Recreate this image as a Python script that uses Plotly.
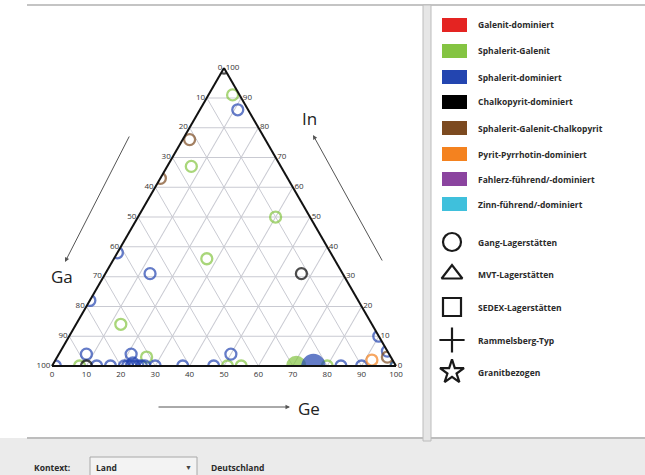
import math
import plotly.graph_objects as go

W, H = 645, 475

# ---- legend content -------------------------------------------------------
mineral_types = [
    "Galenit-dominiert",
    "Sphalerit-Galenit",
    "Sphalerit-dominiert",
    "Chalkopyrit-dominiert",
    "Sphalerit-Galenit-Chalkopyrit",
    "Pyrit-Pyrrhotin-dominiert",
    "Fahlerz-führend/-dominiert",
    "Zinn-führend/-dominiert",
]
type_colors = ["#e42422", "#84c442", "#2345b0", "#000000",
               "#7c4a20", "#f4821f", "#8b449f", "#3fc0dc"]

deposit_types = ["Gang-Lagerstätten", "MVT-Lagerstätten", "SEDEX-Lagerstätten",
                 "Rammelsberg-Typ", "Granitbezogen"]
deposit_symbols = ["circle-open", "triangle-up-open", "square-open",
                   "cross-thin-open", "star-open"]

# ---- deposits: Ga / Ge / In shares in %, n = deposits with that composition --
sg_ga = [2, 26, 10, 37, 73, 92, 71, 49, 45, 20, 0, 29]
sg_ge = [7, 7, 40, 27, 13, 8, 26, 51, 55, 80, 100, 71]
sg_in = [91, 67, 50, 36, 14, 0, 3, 0, 0, 0, 0, 0]
sg_n = [1, 1, 1, 1, 1, 1, 1, 1, 1, 1, 1, 4]

sd_ga = [3, 62, 56, 78, 0, 0, 99, 88, 87, 83, 79, 78, 77, 76, 75, 74, 73, 76,
         75, 70, 62, 53, 46, 16, 10, 0, 24]
sd_ge = [11, 0, 13, 0, 90, 95, 1, 8, 13, 17, 21, 22, 23, 24, 25, 26, 27, 23,
         21, 30, 38, 47, 50, 84, 90, 100, 76]
sd_in = [86, 38, 31, 22, 10, 5, 0, 4, 0, 0, 0, 0, 0, 0, 0, 0, 0, 1,
         4, 0, 0, 0, 4, 0, 0, 0, 0]
sd_n = [1] * 26 + [6]

cd_ga = [0, 12, 90]
cd_ge = [0, 57, 10]
cd_in = [100, 31, 0]
cd_n = [1, 1, 1]

sgc_ga = [22, 37, 1]
sgc_ge = [2, 0, 96]
sgc_in = [76, 63, 3]
sgc_n = [1, 1, 1]

pp_ga = [6]
pp_ge = [92]
pp_in = [2]
pp_n = [1]

series = [
    ("Sphalerit-Galenit", sg_ga, sg_ge, sg_in, sg_n),
    ("Sphalerit-dominiert", sd_ga, sd_ge, sd_in, sd_n),
    ("Sphalerit-Galenit-Chalkopyrit", sgc_ga, sgc_ge, sgc_in, sgc_n),
    ("Pyrit-Pyrrhotin-dominiert", pp_ga, pp_ge, pp_in, pp_n),
    ("Chalkopyrit-dominiert", cd_ga, cd_ge, cd_in, cd_n),
]

tick_vals = list(range(0, 101, 10))


def px(x):
    return x / W


def py(y):
    return 1 - y / H


fig = go.Figure()

for name, ga, ge, inn, n in series:
    col = type_colors[mineral_types.index(name)]
    fig.add_trace(go.Scatterternary(
        a=inn, b=ga, c=ge, mode="markers", name=name, showlegend=False,
        marker=dict(
            symbol=["circle-open" if k == 1 else "circle" for k in n],
            size=[11 if k == 1 else 9 * math.sqrt(k) for k in n],
            color=col,
            line=dict(color=col, width=2.3),
        ),
        hovertemplate="Ga %{b}%<br>Ge %{c}%<br>In %{a}%<extra>" + name + "</extra>",
    ))

# deposit-type symbols for the legend panel (pixel-like helper axes)
sym_y = [242, 274, 307, 340, 372]
fig.add_trace(go.Scatter(
    x=[452] * len(deposit_types), y=sym_y, mode="markers",
    marker=dict(symbol=deposit_symbols, size=18, color="#1a1a1a",
                line=dict(color="#1a1a1a", width=2.2)),
    showlegend=False, hoverinfo="skip", xaxis="x", yaxis="y",
))

ax_common = dict(
    tickmode="array", tickvals=tick_vals,
    ticktext=[str(100 - v) for v in tick_vals],
    ticks="", showline=True, linecolor="#111111", linewidth=2,
    showgrid=True, gridcolor="#c9cad2", gridwidth=1,
    tickfont=dict(size=8, color="#333333", family="Open Sans"),
    title=dict(text=""), min=0,
)

cx, half = 224, 172
tri_h = 2 * half * math.sqrt(3) / 2
bottom = 366

fig.update_layout(
    width=W, height=H,
    margin=dict(l=0, r=0, t=0, b=0),
    paper_bgcolor="white", plot_bgcolor="rgba(0,0,0,0)",
    showlegend=False,
    ternary=dict(
        sum=100, bgcolor="white",
        domain=dict(x=[px(cx - half), px(cx + half)],
                    y=[py(bottom), py(bottom - tri_h)]),
        aaxis=ax_common, baxis=ax_common, caxis=ax_common,
    ),
    xaxis=dict(range=[0, W], domain=[0, 1], visible=False, fixedrange=True),
    yaxis=dict(range=[H, 0], domain=[0, 1], visible=False, fixedrange=True),
)

shapes = []
# bottom toolbar band
shapes.append(dict(type="rect", xref="paper", yref="paper", layer="below",
                   x0=0, x1=1, y0=0, y1=py(438), fillcolor="#ebebeb",
                   line=dict(width=0)))
shapes.append(dict(type="line", xref="paper", yref="paper",
                   x0=px(27), x1=1, y0=py(438), y1=py(438),
                   line=dict(color="#bdbdbd", width=2)))
# top frame line
shapes.append(dict(type="line", xref="paper", yref="paper",
                   x0=px(27), x1=1, y0=py(5), y1=py(5),
                   line=dict(color="#c4c4c4", width=2)))
# splitter between plot and legend panels
shapes.append(dict(type="rect", xref="paper", yref="paper",
                   x0=px(423), x1=px(431), y0=py(441), y1=py(5),
                   fillcolor="#e6e6e6", line=dict(color="#bcbcbc", width=1)))
# dropdown box
shapes.append(dict(type="rect", xref="paper", yref="paper",
                   x0=px(90), x1=px(197), y0=py(478), y1=py(457),
                   fillcolor="#f3f3f3", line=dict(color="#a8a8a8", width=1)))
# colour swatches
sw_y = [25, 51, 77, 102, 128, 154, 179, 204]
for yy, col in zip(sw_y, type_colors):
    shapes.append(dict(type="rect", xref="paper", yref="paper",
                       x0=px(442), x1=px(467), y0=py(yy + 7), y1=py(yy - 7),
                       fillcolor=col, line=dict(width=0)))


def label(x, y, text, font, xanchor="left"):
    return dict(xref="paper", yref="paper", x=px(x), y=py(y), text=text,
                showarrow=False, xanchor=xanchor, yanchor="middle", font=font)


annotations = []
bold = dict(family="Open Sans", size=8.5, color="#2a2a2a", weight="bold")
for yy, txt in zip(sw_y, mineral_types):
    annotations.append(label(476, yy, txt, bold))
for yy, txt in zip(sym_y, deposit_types):
    annotations.append(label(476, yy, txt, bold))

# axis titles with direction arrows
title_font = dict(family="Open Sans", size=17, color="#222222")
arrow = dict(showarrow=True, arrowhead=2, arrowsize=0.9, arrowwidth=1,
             arrowcolor="#555555", text="", xref="paper", yref="paper")
annotations += [
    dict(arrow, x=px(313), y=py(135), ax=70, ay=127),
    dict(arrow, x=px(65), y=py(262), ax=65, ay=-127),
    dict(arrow, x=px(290), y=py(407), ax=-133, ay=0),
    label(309, 118, "In", title_font, "center"),
    label(62, 276, "Ga", title_font, "center"),
    label(309, 408, "Ge", title_font, "center"),
]

# toolbar texts
annotations += [
    label(32, 467, "Kontext:", bold),
    label(94, 467, "Land", bold),
    label(188, 467, "▼", dict(size=7, color="#444444"), "center"),
    label(209, 467, "Deutschland", bold),
]

fig.update_layout(shapes=shapes, annotations=annotations)

fig.write_html("out.html")
